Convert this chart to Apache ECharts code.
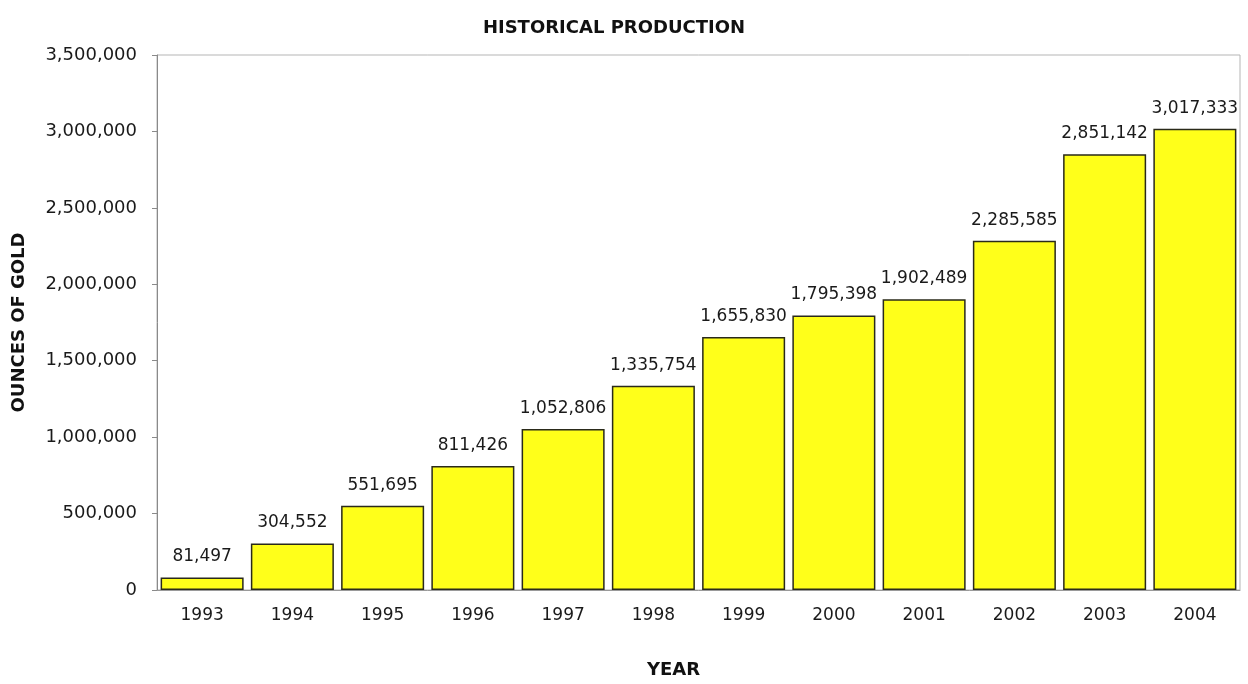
<!DOCTYPE html>
<html><head><meta charset="utf-8">
<script src="https://cdn.jsdelivr.net/npm/echarts@6/dist/echarts.min.js"></script>
<style>html,body{margin:0;padding:0;background:#fff}#c{width:1248px;height:684px}</style>
</head><body><div id="c"></div>
<script>
const years = ['1993','1994','1995','1996','1997','1998','1999','2000','2001','2002','2003','2004'];
const ounces = [81497,304552,551695,811426,1052806,1335754,1655830,1795398,1902489,2285585,2851142,3017333];
const yTicks = [0,500000,1000000,1500000,2000000,2500000,3000000,3500000];

const fmt = v => v.toLocaleString('en-US');
const FONT = 'DejaVu Sans';
const chart = echarts.init(document.getElementById('c'));
chart.setOption({
  animation:false,
  title:{text:'HISTORICAL PRODUCTION',left:609,top:14,textAlign:'center',
    textStyle:{fontFamily:FONT,fontSize:18,fontWeight:'bold',color:'#111'}},
  grid:{left:157,right:8,top:55,bottom:85,show:true,borderColor:'#b5b5b5',borderWidth:1,backgroundColor:'#fff'},
  xAxis:{type:'category',data:years,
    name:'YEAR',nameLocation:'middle',nameGap:71,
    nameTextStyle:{fontFamily:FONT,fontSize:18,fontWeight:'bold',color:'#111',padding:[0,50,0,0]},
    axisLine:{lineStyle:{color:'#9a9a9a'}},axisTick:{show:false},
    axisLabel:{fontFamily:FONT,fontSize:17,color:'#1a1a1a',margin:17}},
  yAxis:{type:'value',min:0,max:3500000,interval:500000,
    name:'OUNCES OF GOLD',nameLocation:'middle',nameGap:129,nameRotate:90,
    nameTextStyle:{fontFamily:FONT,fontSize:18,fontWeight:'bold',color:'#111'},
    axisLine:{show:true,lineStyle:{color:'#8a8a8a'}},
    axisTick:{show:true,length:5,lineStyle:{color:'#8a8a8a'}},
    splitLine:{show:false},
    axisLabel:{fontFamily:FONT,fontSize:18,color:'#1a1a1a',margin:20,
      formatter:v=>yTicks.includes(v)?fmt(v):''}},
  series:[{type:'bar',data:ounces,barCategoryGap:'8%',
    itemStyle:{color:'#ffff1a',borderColor:'#2a2a1a',borderWidth:1.5},
    label:{show:true,position:'top',distance:12,formatter:p=>fmt(p.value),
      fontFamily:FONT,fontSize:17,color:'#1a1a1a'}}]
});
</script></body></html>
